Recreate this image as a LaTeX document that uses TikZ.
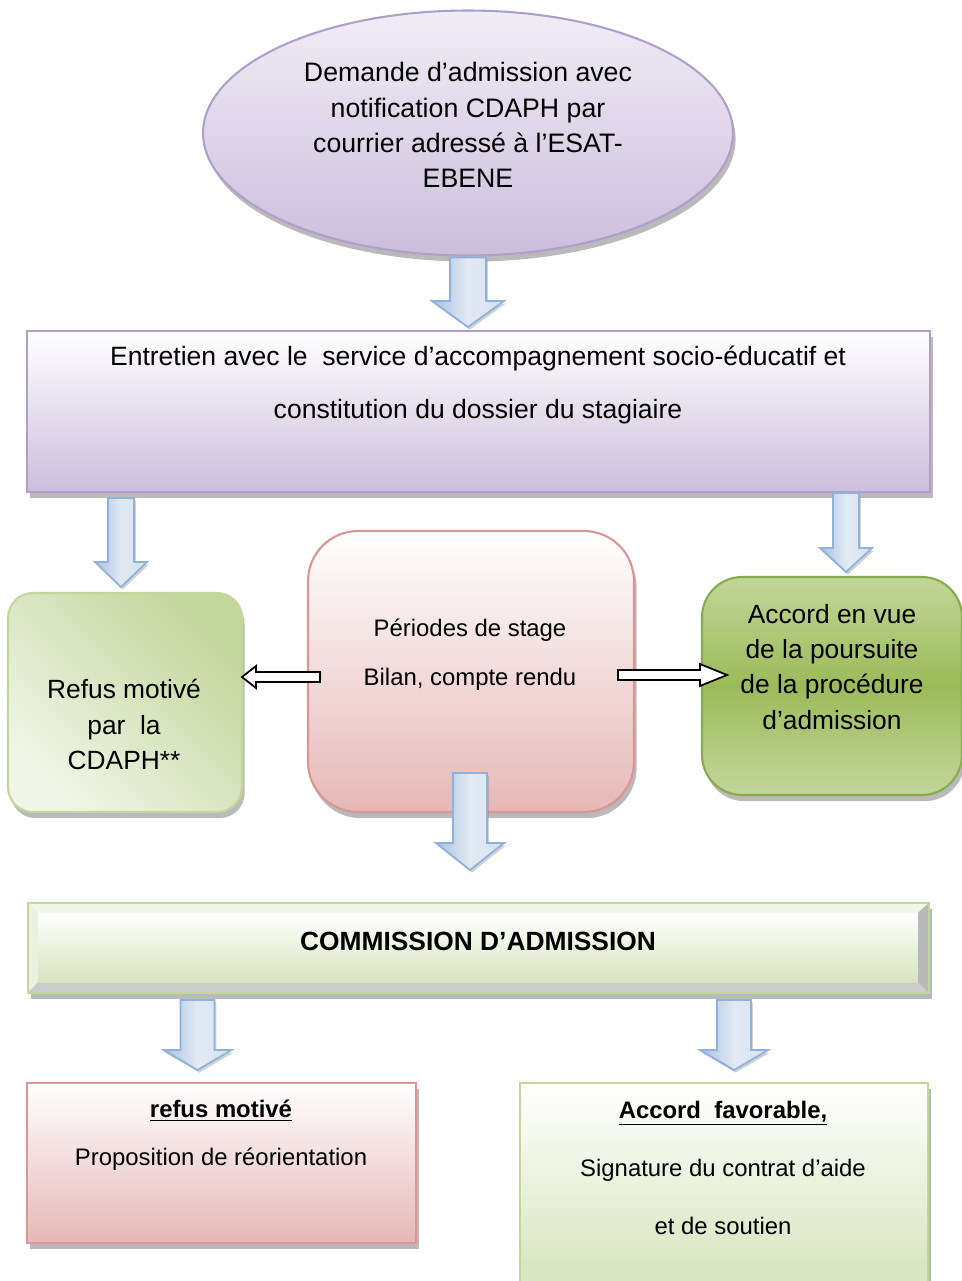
\documentclass[tikz,border=0pt]{standalone}
\usepackage{fontspec}
\setmainfont{Liberation Sans}
\usetikzlibrary{shapes.geometric,shadows,calc}

\definecolor{lilas}{HTML}{CBBEDB}
\definecolor{lilasclair}{HTML}{F1EDF6}
\definecolor{lilasbord}{HTML}{B09FCB}
\definecolor{rose}{HTML}{E5B8B7}
\definecolor{rosebord}{HTML}{D99694}
\definecolor{vert}{HTML}{9BBB59}
\definecolor{vertclair}{HTML}{C3D69B}
\definecolor{vertpale}{HTML}{D7E4BD}
\definecolor{vertbord}{HTML}{8AAA4E}
\definecolor{bleu}{HTML}{E2EAF4}
\definecolor{bleufonce}{HTML}{A7C0DE}
\definecolor{bleubord}{HTML}{8EB2DC}

% fleche bleue : depart, pointe, demi-largeur du corps, longueur de la tete
\newcommand{\flechebleue}[4]{%
  \path[flechebleue] ($(#1)+(-#3,0)$) -- ($(#2)+(-#3,-#4)$) -- ($(#2)+(-2*#3,-#4)$) -- (#2)
    -- ($(#2)+(2*#3,-#4)$) -- ($(#2)+(#3,-#4)$) -- ($(#1)+(#3,0)$) -- cycle;}
% fleche blanche : depart, pointe, recul de la tete
\newcommand{\flechevide}[3]{%
  \draw[flechevide] ($(#1)+(0,-5)$) -- ($(#2)+(#3,-5)$) -- ($(#2)+(#3,-11)$) -- (#2)
    -- ($(#2)+(#3,11)$) -- ($(#2)+(#3,5)$) -- ($(#1)+(0,5)$) -- cycle;}

\begin{document}
\begin{tikzpicture}[x=0.02cm,y=-0.02cm,
  ombre/.style={drop shadow={shadow xshift=1.5pt,shadow yshift=-3.5pt,opacity=.45,fill=black!60}},
  boite/.style={rectangle,inner sep=0pt,outer sep=0pt,line width=1.2pt,ombre},
  texte/.style={align=center,inner sep=0pt},
  flechebleue/.style={draw=bleubord,line width=1pt,left color=bleufonce,right color=bleu!80!bleufonce,middle color=bleu,
    drop shadow={shadow xshift=1pt,shadow yshift=-1.5pt,opacity=.35}},
  flechevide/.style={draw=black,line width=1pt,fill=white}]

\path[use as bounding box,fill=white] (0,0) rectangle (961,1281);

\node[boite,ellipse,minimum width=10.6cm,minimum height=4.9cm,draw=lilasbord,top color=lilasclair,bottom color=lilas] (demande) at (468,133) {};
\node[boite,minimum width=18.06cm,minimum height=3.22cm,draw=lilasbord,top color=white,bottom color=lilas] (entretien) at (478.5,411.5) {};

\node[boite,rounded corners=0.5cm,minimum width=4.68cm,minimum height=4.38cm,draw=vertclair,top color=vertclair,bottom color=vertpale!35!white,shading angle=-45] (refus) at (125,702.5) {};
\node[boite,rounded corners=1cm,minimum width=6.52cm,minimum height=5.62cm,draw=rosebord,top color=white,bottom color=rose] (stage) at (471,671.5) {};
\node[boite,rounded corners=0.8cm,minimum width=5.2cm,minimum height=4.36cm,draw=vertbord,top color=vertclair,bottom color=vertclair,middle color=vert] (accord) at (832,686) {};

% commission en relief
\node[boite,minimum width=18.02cm,minimum height=1.8cm,draw=vertclair,fill=gray!35] (commission) at (478.5,948) {};
\fill[vertpale!35!white] (commission.north west) -- (commission.north east) -- ++(-11,10) -- ($(commission.north west)+(10,10)$) -- cycle;
\fill[vertpale!50!white] (commission.north west) -- ++(10,10) -- ($(commission.south west)+(10,-11)$) -- (commission.south west) -- cycle;
\fill[gray!40] (commission.south west) -- ++(10,-11) -- ($(commission.south east)+(-11,-11)$) -- (commission.south east) -- cycle;
\fill[gray!55] (commission.north east) -- ++(-11,10) -- ($(commission.south east)+(-11,-11)$) -- (commission.south east) -- cycle;
\path[top color=white,bottom color=vertpale] ($(commission.north west)+(10,10)$) rectangle ($(commission.south east)+(-11,-11)$);
\draw[vertclair,line width=1.2pt] (commission.north west) rectangle (commission.south east);

\node[boite,minimum width=7.78cm,minimum height=3.2cm,draw=rosebord,top color=white,bottom color=rose] (refusfinal) at (221.5,1163) {};
\node[boite,minimum width=8.16cm,minimum height=4cm,draw=vertclair,top color=white,bottom color=vertpale] (accordfinal) at (724,1183) {};

% fleches bleues
\coordinate (d1) at ($(demande.south)+(0,2)$);
\coordinate (p1) at ($(entretien.north -| demande.south)+(0,-4)$);
\coordinate (d2) at ($(entretien.south -| refus.north)+(-4,6)$);
\coordinate (p2) at ($(refus.north)+(-4,-6)$);
\coordinate (d3) at ($(entretien.south -| accord.north)+(14,1)$);
\coordinate (p3) at ($(accord.north)+(14,-5)$);
\coordinate (d4) at ($(stage.south)+(-1,-39)$);
\coordinate (p4) at ($(commission.north -| stage.south)+(-1,-33)$);
\coordinate (d5) at ($(commission.south -| refusfinal.north)+(-24,7)$);
\coordinate (p5) at ($(refusfinal.north)+(-24,-13)$);
\coordinate (d6) at ($(commission.south -| accordfinal.north)+(10,7)$);
\coordinate (p6) at ($(accordfinal.north)+(10,-13)$);
\flechebleue{d1}{p1}{18}{26}
\flechebleue{d2}{p2}{13}{25}
\flechebleue{d3}{p3}{13}{24}
\flechebleue{d4}{p4}{17}{27}
\flechebleue{d5}{p5}{17}{20}
\flechebleue{d6}{p6}{17}{20}

% fleches blanches
\coordinate (d7) at ($(stage.west)+(12,5.5)$);
\coordinate (p7) at ($(refus.east)+(0,-25.5)$);
\coordinate (d8) at ($(stage.east)+(-16,3.5)$);
\coordinate (p8) at ($(accord.west)+(25,-11)$);
\flechevide{d7}{p7}{14}
\flechevide{d8}{p8}{-27}

% textes
\node[texte,font=\fontsize{15.2}{20}\selectfont] (demandetxt) at (468,125) {Demande d’admission avec\\notification CDAPH par\\courrier adressé à l’ESAT-\\EBENE};
\node[texte,font=\fontsize{15.1}{30}\selectfont] (entretientxt) at (478,385) {Entretien avec le\ \ service d’accompagnement socio-éducatif et\\constitution du dossier du stagiaire};
\node[texte,font=\fontsize{15}{20.1}\selectfont] (refustxt) at (124,724.5) {Refus motivé\\par\ \ la\\CDAPH**};
\node[texte,font=\fontsize{13.6}{27.8}\selectfont] (stagetxt) at (470,655) {Périodes de stage\\Bilan, compte rendu};
\node[texte,font=\fontsize{15}{20}\selectfont] (accordtxt) at (832,667) {Accord en vue\\de la poursuite\\de la procédure\\d’admission};
\node[texte,font=\bfseries\fontsize{15}{18}\selectfont] (commissiontxt) at (478,941) {COMMISSION D’ADMISSION};
\node[texte,font=\fontsize{13.6}{27}\selectfont] (refusfinaltxt) at (221,1135) {\underline{\textbf{refus motivé}}\\Proposition de réorientation};
\node[texte,font=\fontsize{13.6}{33}\selectfont] (accordfinaltxt) at (723,1168) {\underline{\textbf{Accord\ \ favorable,}}\\Signature du contrat d’aide\\et de soutien};
\end{tikzpicture}
\end{document}
